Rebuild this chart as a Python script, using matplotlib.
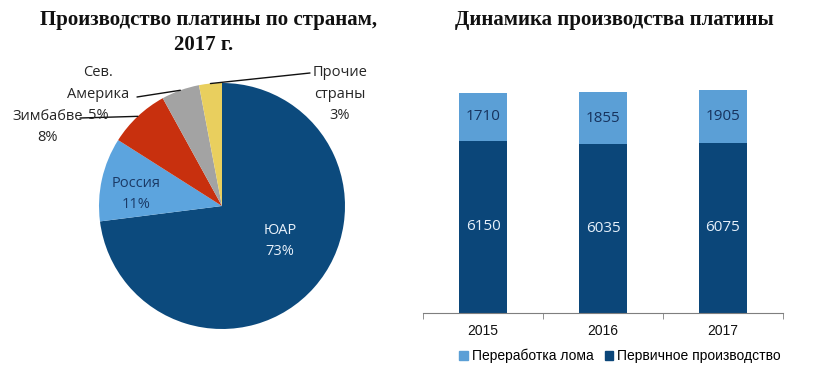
import matplotlib
matplotlib.use("Agg")
import matplotlib.pyplot as plt
from matplotlib.patches import Patch
import numpy as np

# ---- data ----
countries = ["ЮАР", "Россия", "Зимбабве", "Сев.\nАмерика", "Прочие\nстраны"]
shares = [73, 11, 8, 5, 3]
pie_colors = ["#0C4A7D", "#5CA4DE", "#C8300E", "#A3A3A3", "#E9CF5E"]

years = ["2015", "2016", "2017"]
primary = [6150, 6035, 6075]
recycling = [1710, 1855, 1905]
series_names = ["Переработка лома", "Первичное производство"]

W, H = 816, 369
fig = plt.figure(figsize=(W / 100, H / 100), dpi=100)
fig.patch.set_facecolor("white")

def fx(px):
    return px / W

def fy(py):
    return 1 - py / H

label_font = ["Open Sans", "DejaVu Sans"]
title_font = ["Liberation Serif", "DejaVu Serif"]

# ---- pie ----
cx, cy, r = 222, 206, 123
axp = fig.add_axes([fx(cx - r), fy(cy + r), (2 * r) / W, (2 * r) / H])
wedges, _ = axp.pie(shares, colors=pie_colors, startangle=90, counterclock=False,
                    radius=1, wedgeprops=dict(linewidth=0))
axp.set_xlim(-1, 1)
axp.set_ylim(-1, 1)
axp.set_aspect("equal")
axp.axis("off")

# inside labels
inside = {0: ((280, 241), "#E8F1FA"), 1: ((136, 194), "#1B3A66")}
for i, ((tx, ty), col) in inside.items():
    fig.text(fx(tx), fy(ty), f"{countries[i]}\n{shares[i]}%", ha="center", va="center",
             color=col, fontsize=10.5, family=label_font, linespacing=1.6)

# outside labels with leader lines
outside = {2: ((48, 127), (80, 118)), 3: ((98, 94), (137, 97)), 4: ((340, 94), (310, 73))}
for i, ((tx, ty), (lx, ly)) in outside.items():
    w = wedges[i]
    ang = np.deg2rad((w.theta1 + w.theta2) / 2)
    ax_pt = (np.cos(ang), np.sin(ang))
    fig.text(fx(tx), fy(ty), f"{countries[i]}\n{shares[i]}%", ha="center", va="center",
             color="#262626", fontsize=10.5, family=label_font, linespacing=1.6)
    axp.annotate("", xy=ax_pt, xycoords="data",
                 xytext=(fx(lx), fy(ly)), textcoords="figure fraction",
                 arrowprops=dict(arrowstyle="-", color="#111111", lw=1.0,
                                 shrinkA=0, shrinkB=0), annotation_clip=False)

fig.text(fx(208), fy(20), "Производство платины по странам,", ha="center", va="center",
         fontsize=15, fontweight="bold", family=title_font, color="#111111")
fig.text(fx(204), fy(45), "2017 г.", ha="center", va="center",
         fontsize=15, fontweight="bold", family=title_font, color="#111111")

# ---- bars ----
ymax = 8500
ax_bottom_px, ax_top_px = 313, 75
axb = fig.add_axes([fx(423), fy(ax_bottom_px), 360 / W, (ax_bottom_px - ax_top_px) / H])
x = np.arange(len(years))
bw = 0.4
dark = "#0B4679"
light = "#5B9FD6"
b1 = axb.bar(x, primary, bw, color=dark, linewidth=0)
b2 = axb.bar(x, recycling, bw, bottom=primary, color=light, linewidth=0)
axb.set_xlim(-0.5, len(years) - 0.5)
axb.set_ylim(0, ymax)
for i in range(len(years)):
    axb.text(x[i], primary[i] / 2, str(primary[i]), ha="center", va="center",
             color="#E6F0FA", fontsize=11, family=label_font)
    axb.text(x[i], primary[i] + recycling[i] / 2, str(recycling[i]), ha="center", va="center",
             color="#17335E", fontsize=11, family=label_font)
for s in ["top", "right", "left"]:
    axb.spines[s].set_visible(False)
axb.spines["bottom"].set_color("#7F7F7F")
axb.set_yticks([])
axb.set_xticks(x)
axb.set_xticklabels(years, fontsize=10, family=["Liberation Sans", "DejaVu Sans"], color="#111111")
axb.tick_params(axis="x", which="major", length=0, pad=8)
axb.set_xticks(np.arange(-0.5, len(years), 1.0), minor=True)
axb.tick_params(axis="x", which="minor", length=4, color="#7F7F7F", direction="out")

axb.legend(handles=[Patch(color=light), Patch(color=dark)], labels=series_names,
           loc="center",
           bbox_to_anchor=((620 - 423) / 360, (fy(356) - fy(ax_bottom_px)) / ((ax_bottom_px - ax_top_px) / H)),
           ncol=2, frameon=False, handlelength=0.6, handleheight=0.6, handletextpad=0.3,
           columnspacing=0.8, prop=dict(family=["Liberation Sans", "DejaVu Sans"], size=10))

fig.text(fx(614), fy(20), "Динамика производства платины", ha="center", va="center",
         fontsize=15, fontweight="bold", family=title_font, color="#111111")

fig.savefig("out.png", dpi=100, facecolor="white")
